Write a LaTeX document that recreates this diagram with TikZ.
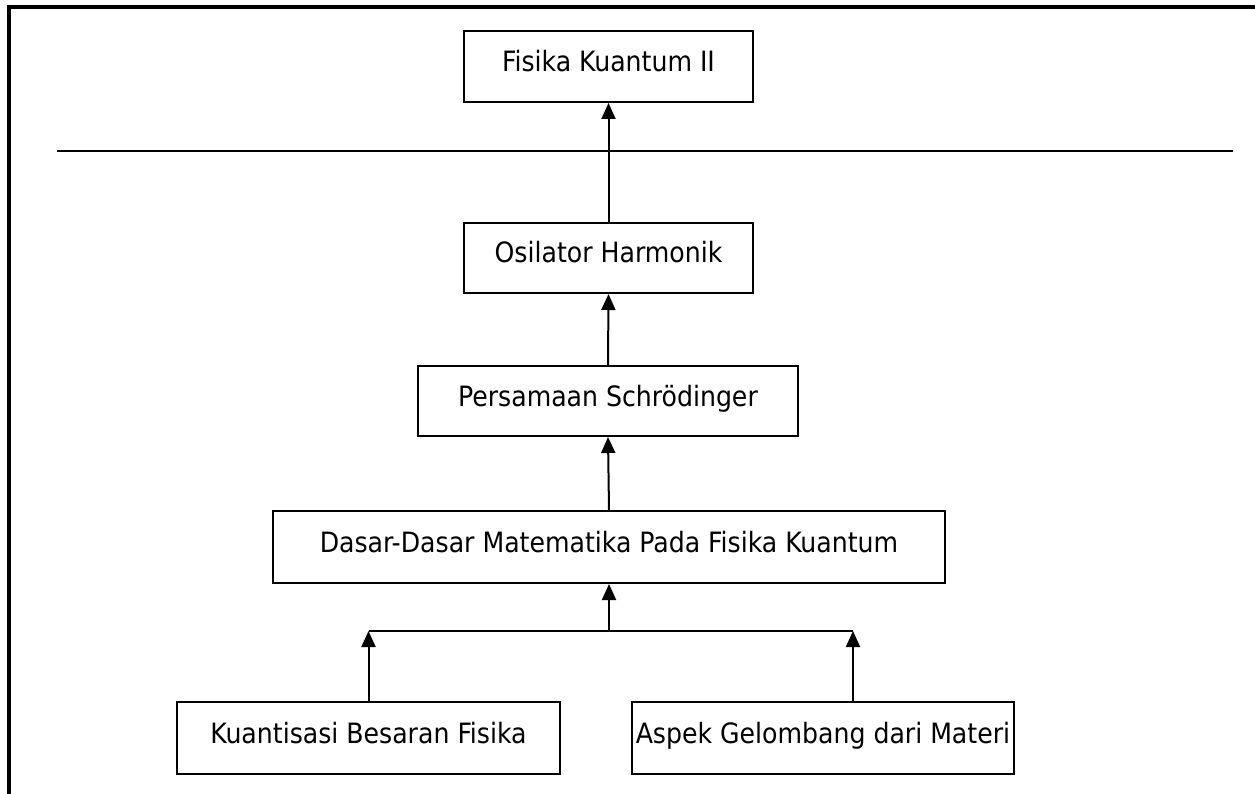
\documentclass[tikz,border=0pt]{standalone}
\usepackage{fontspec}
\setmainfont{DejaVu Sans Condensed}
\usetikzlibrary{arrows.meta}
\begin{document}
\begin{tikzpicture}[x=1pt,y=-1pt,
  topic/.style={draw,line width=2pt,rectangle,inner sep=0pt,
    text height=20pt,text depth=10pt,
    font=\fontsize{28}{32}\selectfont},
  conn/.style={line width=2pt,-{Triangle[length=16pt,width=14pt]}},
  plain/.style={line width=2pt}]
\useasboundingbox (0,0) rectangle (1255,794);
% frame
\draw[line width=4pt] (9,794) -- (9,7) -- (1255,7);
\draw[plain] (57,151) -- (1233,151);
% nodes
\node[topic,minimum width=289pt,minimum height=71pt] (fk) at (608.5,66.5) {Fisika Kuantum II};
\node[topic,minimum width=289pt,minimum height=70pt] (osc) at (608.5,258) {Osilator Harmonik};
\node[topic,minimum width=380pt,minimum height=70pt] (ps) at (608,401) {Persamaan Schrödinger};
\node[topic,minimum width=672pt,minimum height=72pt] (dd) at (609,547) {Dasar-Dasar Matematika Pada Fisika Kuantum};
\node[topic,minimum width=383pt,minimum height=72pt] (kb) at (368.5,738) {Kuantisasi Besaran Fisika};
\node[topic,minimum width=382pt,minimum height=72pt] (ag) at (823,738) {Aspek Gelombang dari Materi};
% bus
\coordinate (busL) at (368.5,631);
\coordinate (busR) at (853,631);
\coordinate (busM) at (609,631);
\coordinate (agT) at (853,702);
% connectors
\draw[conn] (osc.north) -- (fk.south);
\draw[conn] (ps.north) -- (osc.south);
\draw[conn] (dd.north) -- (ps.south);
\draw[conn] (busM) -- (dd.south);
\draw[plain] (busL) -- (busR);
\draw[conn] (kb.north) -- (busL);
\draw[conn] (agT) -- (busR);
\end{tikzpicture}
\end{document}
